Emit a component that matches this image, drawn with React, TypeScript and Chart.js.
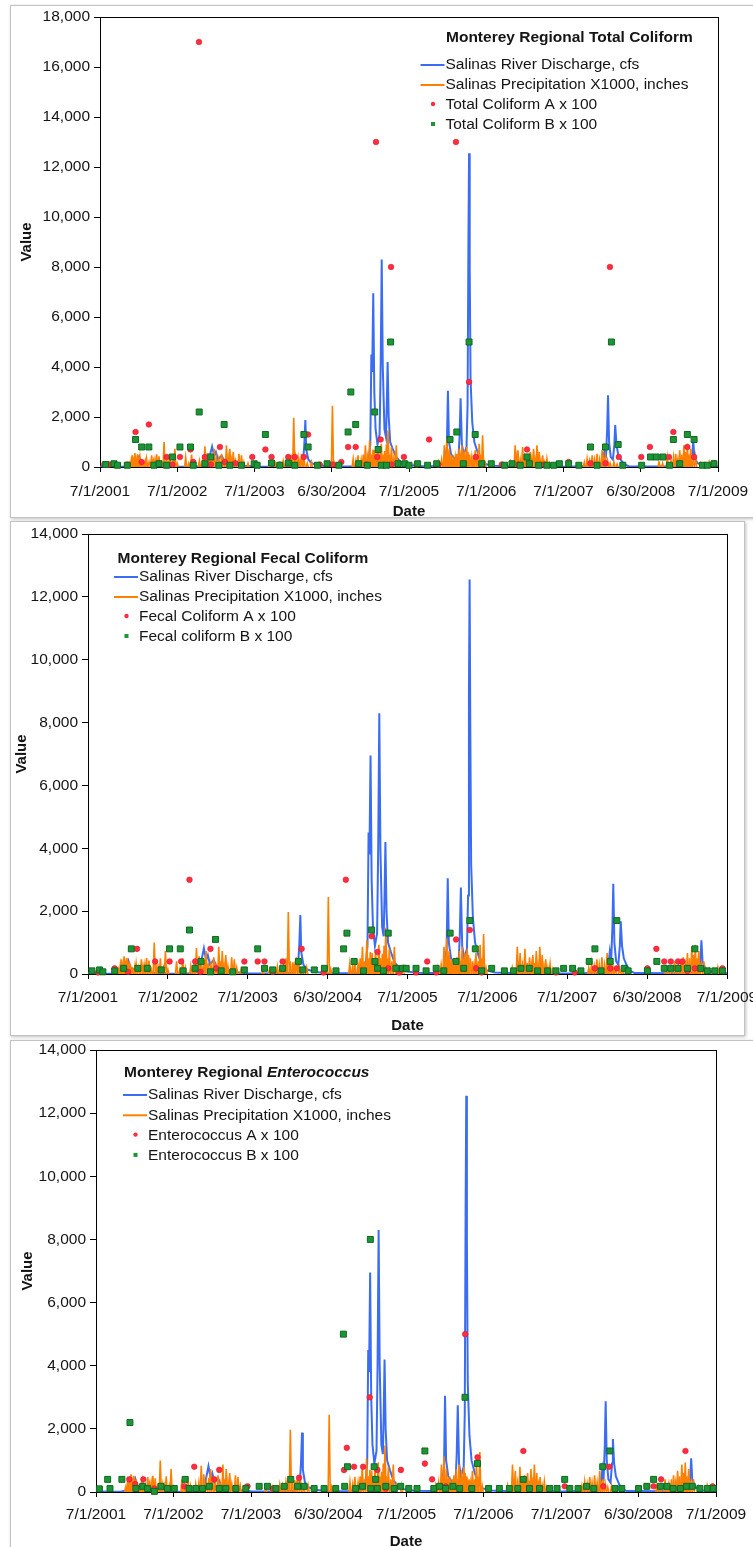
import React, { useEffect, useRef } from "react";
import { Chart, registerables } from "chart.js";

Chart.register(...registerables);

const FONT = '"Liberation Sans", Arial, Helvetica, sans-serif';

// ---------- axis ----------
const xTickLabels = ["7/1/2001", "7/1/2002", "7/1/2003", "6/30/2004", "7/1/2005", "7/1/2006", "7/1/2007", "6/30/2008", "7/1/2009"];
const TICK_SPACING_DAYS = 365.25;
const X_MAX_DAY = 2922;

// ---------- data (x = days since 7/1/2001) ----------
const dischargeCfs: [number, number][] = [
  [0, 20], [60, 10], [120, 15], [150, 60], [165, 350], [172, 150], [185, 420], [195, 180], [230, 120], [250, 250], [262, 90], [300, 40], [365, 15],
  [450, 10], [505, 60], [515, 300], [530, 820], [540, 450], [548, 600], [558, 300], [575, 450], [590, 200], [620, 120], [660, 60], [730, 20],
  [850, 15], [940, 40], [960, 200], [966, 900], [971, 1880], [975, 700], [985, 300], [1000, 150], [1040, 60], [1100, 20],
  [1250, 30], [1268, 150], [1278, 900], [1283, 4500], [1287, 3800], [1292, 6950], [1297, 3000], [1303, 1500], [1312, 900], [1322, 1300],
  [1327, 4000], [1332, 8300], [1337, 4000], [1345, 1500], [1352, 1200], [1356, 2500], [1360, 4200], [1365, 2000], [1372, 1000], [1385, 700],
  [1400, 400], [1420, 200], [1450, 90], [1500, 40], [1600, 30], [1630, 200], [1640, 800], [1645, 3050], [1650, 1000], [1660, 500],
  [1680, 300], [1695, 400], [1700, 1200], [1705, 2750], [1711, 900], [1720, 500], [1733, 800], [1738, 2500], [1742, 9000], [1745, 12550],
  [1748, 8000], [1752, 3500], [1760, 1800], [1770, 1000], [1785, 600], [1800, 300], [1820, 120], [1860, 50], [1950, 20], [2200, 15],
  [2370, 40], [2380, 300], [2386, 700], [2392, 350], [2398, 1500], [2402, 2870], [2407, 1000], [2415, 400], [2425, 300], [2432, 900],
  [2436, 1680], [2442, 900], [2450, 500], [2465, 250], [2480, 100], [2500, 30], [2700, 20], [2790, 60], [2800, 400], [2805, 1070],
  [2810, 400], [2825, 150], [2860, 50], [2922, 20],
];

const precipX1000: [number, number][] = [
  [140, 150], [148, 300], [153, 470], [158, 250], [165, 560], [171, 300], [178, 510], [183, 250], [189, 400], [196, 200], [205, 150], [214, 250],
  [220, 330], [232, 200], [244, 470], [252, 250], [260, 300], [268, 510], [279, 430], [290, 150], [303, 1000], [315, 250], [322, 200], [331, 500],
  [345, 200], [354, 730], [365, 150],
  [405, 400], [420, 150], [433, 500], [445, 200], [470, 250], [485, 300], [496, 830], [508, 560], [520, 300], [532, 450], [540, 730], [550, 350],
  [562, 300], [575, 530], [585, 250], [598, 870], [606, 400], [614, 730], [622, 300], [630, 600], [640, 250], [657, 530], [669, 470], [680, 200], [700, 150],
  [800, 100], [830, 150], [866, 240], [880, 200], [895, 300], [905, 500], [916, 1970], [925, 400], [937, 370], [945, 250], [953, 530], [965, 300],
  [980, 150], [1000, 200], [1099, 2450], [1110, 160],
  [1197, 330], [1210, 250], [1220, 470], [1235, 300], [1245, 500], [1255, 870], [1265, 400], [1275, 1070], [1285, 500], [1291, 700], [1299, 670],
  [1308, 400], [1315, 730], [1322, 400], [1330, 930], [1338, 500], [1346, 640], [1354, 900], [1362, 1470], [1370, 500], [1378, 800], [1390, 400],
  [1401, 870], [1415, 200], [1441, 200],
  [1600, 200], [1615, 300], [1628, 870], [1634, 500], [1640, 1130], [1646, 400], [1651, 730], [1657, 300], [1663, 470], [1672, 300], [1680, 400],
  [1687, 530], [1698, 730], [1704, 400], [1711, 870], [1717, 400], [1723, 670], [1728, 500], [1734, 800], [1740, 600], [1748, 500], [1758, 400],
  [1766, 300], [1774, 670], [1784, 400], [1793, 930], [1800, 500], [1809, 1270], [1820, 200],
  [1940, 200], [1963, 870], [1970, 400], [1976, 670], [1987, 300], [1998, 800], [2008, 350], [2019, 530], [2027, 300], [2034, 600], [2042, 350],
  [2050, 730], [2058, 300], [2066, 870], [2072, 400], [2077, 600], [2085, 250], [2093, 470], [2103, 200], [2113, 330], [2125, 150],
  [2290, 200], [2303, 330], [2315, 250], [2327, 470], [2338, 300], [2350, 530], [2362, 300], [2374, 670], [2382, 350], [2390, 400], [2400, 250],
  [2412, 150], [2430, 200], [2445, 120],
  [2643, 200], [2660, 150], [2682, 400], [2700, 250], [2712, 400], [2722, 530], [2732, 300], [2741, 670], [2751, 500], [2761, 870], [2770, 600],
  [2777, 930], [2785, 500], [2793, 730], [2805, 300], [2816, 400], [2840, 150], [2880, 200], [2900, 100],
];

const totalColiformA: [number, number][] = [
  [20, 100], [46, 100], [129, 100], [168, 1400], [197, 200], [231, 1700], [280, 150], [315, 400], [342, 100], [378, 400], [428, 700], [441, 200],
  [468, 17000], [496, 400], [524, 100], [567, 800], [590, 200], [640, 150], [720, 400], [782, 700], [811, 400], [850, 100], [890, 400], [921, 400],
  [964, 400], [984, 1300], [1039, 100], [1100, 100], [1141, 200], [1173, 800], [1209, 800], [1260, 100], [1305, 13000], [1311, 400], [1327, 1100],
  [1376, 8000], [1378, 100], [1437, 400], [1497, 100], [1556, 1100], [1600, 100], [1683, 13000], [1745, 3400], [1777, 400], [1805, 100],
  [1900, 100], [1979, 100], [2019, 700], [2100, 100], [2216, 200], [2319, 150], [2390, 150], [2411, 8000], [2453, 400], [2559, 400], [2600, 800],
  [2690, 400], [2711, 1400], [2777, 800], [2809, 400], [2903, 160],
];
const totalColiformB: [number, number][] = [
  [27, 100], [66, 130], [83, 70], [129, 70], [168, 1100], [197, 800], [231, 800], [255, 70], [279, 130], [315, 70], [342, 400], [378, 800],
  [428, 800], [441, 70], [469, 2200], [496, 130], [524, 400], [562, 70], [587, 1700], [614, 70], [669, 70], [729, 130], [743, 70], [782, 1300],
  [811, 160], [850, 70], [890, 160], [921, 70], [964, 1300], [984, 800], [1028, 70], [1074, 130], [1129, 70], [1173, 1400], [1186, 3000],
  [1209, 1700], [1223, 130], [1264, 70], [1299, 2200], [1315, 700], [1330, 70], [1354, 70], [1374, 5000], [1409, 130], [1441, 130], [1461, 70],
  [1502, 130], [1549, 70], [1592, 130], [1655, 1100], [1687, 1400], [1718, 130], [1745, 5000], [1774, 1300], [1805, 130], [1850, 130], [1913, 70],
  [1948, 130], [1987, 70], [2019, 400], [2030, 130], [2074, 70], [2113, 70], [2145, 70], [2172, 130], [2216, 130], [2264, 70], [2319, 800],
  [2350, 70], [2390, 800], [2418, 5000], [2450, 900], [2472, 70], [2561, 70], [2603, 400], [2630, 400], [2662, 400], [2693, 70], [2711, 1100],
  [2741, 130], [2777, 1300], [2809, 1100], [2848, 70], [2872, 70], [2903, 130],
];

const fecalColiformA: [number, number][] = [
  [46, 50], [122, 180], [183, 70], [224, 800], [307, 400], [373, 400], [426, 400], [464, 3000], [490, 400], [514, 70], [560, 800], [586, 180],
  [715, 400], [776, 400], [807, 400], [845, 70], [890, 400], [977, 800], [1077, 50], [1179, 3000], [1297, 1200], [1324, 700], [1373, 180],
  [1423, 50], [1500, 50], [1551, 400], [1592, 50], [1683, 1100], [1746, 1400], [1775, 180], [1800, 50], [2140, 50], [2226, 50], [2318, 180],
  [2388, 180], [2418, 180], [2558, 180], [2599, 800], [2635, 400], [2665, 400], [2698, 400], [2718, 400], [2741, 100], [2775, 180], [2901, 180],
];
const fecalColiformB: [number, number][] = [
  [18, 100], [53, 130], [68, 70], [122, 100], [163, 180], [198, 800], [228, 180], [271, 180], [335, 130], [373, 800], [422, 800], [435, 100],
  [464, 1400], [490, 180], [517, 400], [560, 70], [583, 1100], [609, 100], [662, 70], [715, 130], [776, 800], [807, 180], [845, 130], [890, 180],
  [962, 400], [982, 130], [1035, 130], [1081, 180], [1134, 100], [1169, 800], [1184, 1300], [1217, 400], [1260, 100], [1297, 1400], [1312, 400],
  [1324, 180], [1351, 100], [1373, 1300], [1408, 180], [1438, 180], [1455, 180], [1500, 180], [1546, 100], [1592, 180], [1627, 100], [1656, 1300],
  [1683, 400], [1718, 180], [1746, 1700], [1771, 800], [1800, 100], [1846, 180], [1904, 100], [1946, 100], [1980, 180], [2018, 180], [2056, 100],
  [2102, 100], [2140, 100], [2175, 180], [2216, 180], [2254, 100], [2292, 400], [2318, 800], [2346, 100], [2388, 400], [2418, 1700], [2452, 180],
  [2470, 100], [2558, 100], [2601, 400], [2635, 180], [2665, 180], [2698, 180], [2741, 180], [2775, 800], [2802, 180], [2832, 100], [2866, 100],
  [2901, 100],
];

const enterococcusA: [number, number][] = [
  [157, 400], [185, 250], [223, 400], [275, 110], [416, 180], [463, 800], [557, 400], [581, 700], [714, 180], [832, 110], [957, 450],
  [1169, 700], [1182, 1400], [1216, 800], [1259, 800], [1290, 3000], [1326, 700], [1366, 110], [1437, 700], [1550, 900], [1584, 400],
  [1648, 180], [1740, 5000], [1798, 1100], [2014, 1300], [2209, 180], [2391, 180], [2419, 800], [2596, 180], [2628, 180], [2663, 400],
  [2778, 1300], [2906, 180],
];
const enterococcusB: [number, number][] = [
  [16, 100], [55, 400], [66, 110], [122, 400], [160, 2200], [188, 110], [220, 180], [243, 110], [275, 20], [306, 180], [337, 110], [369, 110],
  [420, 400], [439, 110], [471, 110], [502, 110], [534, 180], [581, 110], [612, 110], [659, 110], [706, 110], [769, 180], [808, 180], [848, 110],
  [887, 180], [918, 400], [950, 180], [981, 180], [1028, 110], [1075, 110], [1130, 110], [1166, 5000], [1172, 180], [1185, 800], [1224, 110],
  [1256, 180], [1293, 8000], [1295, 110], [1311, 800], [1318, 400], [1326, 110], [1366, 180], [1405, 110], [1436, 180], [1474, 110], [1513, 110],
  [1550, 1300], [1592, 110], [1619, 180], [1648, 110], [1682, 180], [1714, 110], [1739, 3000], [1771, 110], [1798, 900], [1850, 110], [1901, 110],
  [1948, 110], [1988, 110], [2014, 400], [2043, 110], [2090, 110], [2138, 110], [2173, 110], [2209, 400], [2233, 110], [2272, 110], [2312, 180],
  [2346, 110], [2388, 800], [2422, 1300], [2446, 110], [2478, 110], [2557, 110], [2596, 180], [2628, 400], [2660, 180], [2691, 180], [2720, 110],
  [2754, 110], [2783, 180], [2810, 180], [2846, 110], [2881, 110], [2909, 110],
];

const dischargeLabel = "Salinas River Discharge, cfs";
const precipLabel = "Salinas Precipitation X1000, inches";

// ---------- styles ----------
const BLUE = "#3a6cf4";
const ORANGE = "#ff8000";
const RED = "#ff2d3d";
const RED_EDGE = "#e0142a";
const GREEN = "#1f9437";
const GREEN_EDGE = "#0c6a20";
const TEXT = "#141414";

type Box = { left: number; top: number; width: number; height: number };
type PanelCfg = {
  frame: Box;
  canvas: Box;
  area: { left: number; top: number; right: number; bottom: number };
  yMax: number;
  titleBold: string;
  titleItalic?: string;
  labelA: string;
  labelB: string;
  dataA: [number, number][];
  dataB: [number, number][];
  xTickCenterY: number;
  dateCenterY: number;
  valueCenterX: number;
  legend: { titleX: number; titleY: number; textX: number; firstY: number; step: number };
};

const panels: PanelCfg[] = [
  {
    frame: { left: 10, top: 5, width: 760, height: 513 },
    canvas: { left: 10, top: 5, width: 743, height: 526 },
    area: { left: 100, top: 17, right: 718, bottom: 467 },
    yMax: 18000,
    titleBold: "Monterey Regional Total Coliform",
    labelA: "Total Coliform A x 100",
    labelB: "Total Coliform B x 100",
    dataA: totalColiformA,
    dataB: totalColiformB,
    xTickCenterY: 492,
    dateCenterY: 512,
    valueCenterX: 27,
    legend: { titleX: 446, titleY: 38, textX: 445.5, firstY: 65, step: 20 },
  },
  {
    frame: { left: 10, top: 521, width: 735, height: 515 },
    canvas: { left: 10, top: 521, width: 743, height: 517 },
    area: { left: 88, top: 534, right: 727, bottom: 974 },
    yMax: 14000,
    titleBold: "Monterey Regional Fecal Coliform",
    labelA: "Fecal Coliform A x 100",
    labelB: "Fecal coliform B x 100",
    dataA: fecalColiformA,
    dataB: fecalColiformB,
    xTickCenterY: 998,
    dateCenterY: 1026,
    valueCenterX: 22,
    legend: { titleX: 117.6, titleY: 559, textX: 139, firstY: 577, step: 20 },
  },
  {
    frame: { left: 10, top: 1040, width: 760, height: 520 },
    canvas: { left: 10, top: 1040, width: 743, height: 516 },
    area: { left: 96, top: 1050, right: 716, bottom: 1492 },
    yMax: 14000,
    titleBold: "Monterey Regional ",
    titleItalic: "Enterococcus",
    labelA: "Enterococcus A x 100",
    labelB: "Enterococcus B x 100",
    dataA: enterococcusA,
    dataB: enterococcusB,
    xTickCenterY: 1515,
    dateCenterY: 1542,
    valueCenterX: 28,
    legend: { titleX: 124, titleY: 1073, textX: 148, firstY: 1095, step: 20.3 },
  },
];

const TICK_FONT = 15.5;
const TITLE_FONT = 15;
const LEGEND_FONT = 15.5;
const TICK_LEN = 5;

function toPoints(arr: [number, number][]) {
  return arr.map(([x, y]) => ({ x, y }));
}
function toSpikes(arr: [number, number][], half: number) {
  const pts: { x: number; y: number }[] = [{ x: 0, y: 0 }];
  arr.forEach(([d, v]) => {
    pts.push({ x: d - half, y: 0 }, { x: d, y: v }, { x: d + half, y: 0 });
  });
  pts.push({ x: X_MAX_DAY, y: 0 });
  return pts;
}

function makeDecor(cfg: PanelCfg) {
  return {
    id: "decor",
    beforeDatasetsDraw(chart: any) {
      const { ctx, chartArea: a } = chart;
      ctx.save();
      ctx.strokeStyle = "#000";
      ctx.lineWidth = 1;
      ctx.strokeRect(Math.round(a.left) + 0.5, Math.round(a.top) + 0.5, Math.round(a.right - a.left), Math.round(a.bottom - a.top));
      ctx.restore();
    },
    afterDraw(chart: any) {
      const ctx = chart.ctx as CanvasRenderingContext2D;
      const ox = cfg.canvas.left;
      const oy = cfg.canvas.top;
      const L = cfg.legend;
      ctx.save();
      ctx.textBaseline = "middle";
      ctx.textAlign = "left";
      ctx.fillStyle = TEXT;
      ctx.font = `bold ${LEGEND_FONT}px ${FONT}`;
      let tx = L.titleX - ox;
      const ty = L.titleY - oy;
      ctx.fillText(cfg.titleBold, tx, ty);
      if (cfg.titleItalic) {
        tx += ctx.measureText(cfg.titleBold).width;
        ctx.font = `italic bold ${LEGEND_FONT}px ${FONT}`;
        ctx.fillText(cfg.titleItalic, tx, ty);
      }
      ctx.font = `${LEGEND_FONT}px ${FONT}`;
      const entries = [
        { kind: "line", color: BLUE, label: dischargeLabel },
        { kind: "line", color: ORANGE, label: precipLabel },
        { kind: "dot", color: RED, label: cfg.labelA },
        { kind: "sq", color: GREEN, label: cfg.labelB },
      ];
      entries.forEach((e, i) => {
        const y = L.firstY - oy + i * L.step;
        const x = L.textX - ox;
        if (e.kind === "line") {
          ctx.strokeStyle = e.color;
          ctx.lineWidth = 2;
          ctx.beginPath();
          ctx.moveTo(x - 25, y);
          ctx.lineTo(x - 1, y);
          ctx.stroke();
        } else if (e.kind === "dot") {
          ctx.fillStyle = e.color;
          ctx.beginPath();
          ctx.arc(x - 12.5, y - 1, 2.2, 0, Math.PI * 2);
          ctx.fill();
        } else {
          ctx.fillStyle = e.color;
          ctx.fillRect(x - 14.5, y - 3, 4, 4);
        }
        ctx.fillStyle = TEXT;
        ctx.fillText(e.label, x, y);
      });
      ctx.restore();
    },
  };
}

function Panel({ cfg }: { cfg: PanelCfg }) {
  const ref = useRef<HTMLCanvasElement | null>(null);
  useEffect(() => {
    if (!ref.current) return;
    const c = cfg.canvas;
    const a = cfg.area;
    const canvasBottom = c.top + c.height;
    const xAxisHeight = canvasBottom - a.bottom;
    const yAxisWidth = a.left - c.left;
    const tickLH = TICK_FONT * 1.2;
    const titleLH = TITLE_FONT * 1.2;
    const xTickPad = cfg.xTickCenterY - a.bottom - TICK_LEN - tickLH / 2;
    const dateBottomPad = canvasBottom - cfg.dateCenterY - titleLH / 2;
    const valueTopPad = cfg.valueCenterX - c.left - titleLH / 2;

    const chart = new Chart(ref.current, {
      type: "scatter",
      data: {
        datasets: [
          {
            label: dischargeLabel,
            data: toPoints(dischargeCfs),
            showLine: true,
            borderColor: BLUE,
            borderWidth: 2,
            pointRadius: 0,
            tension: 0,
            order: 4,
          },
          {
            label: precipLabel,
            data: toSpikes(precipX1000, 5),
            showLine: true,
            borderColor: ORANGE,
            borderWidth: 1.6,
            pointRadius: 0,
            tension: 0,
            order: 3,
            segment: {
              borderColor: (ctx: any) => (ctx.p0.parsed.y === 0 && ctx.p1.parsed.y === 0 ? "rgba(0,0,0,0)" : ORANGE),
            },
          },
          {
            label: cfg.labelA,
            data: toPoints(cfg.dataA),
            pointStyle: "circle",
            pointRadius: 2.8,
            backgroundColor: RED,
            borderColor: RED_EDGE,
            borderWidth: 0.6,
            order: 2,
            clip: false,
          },
          {
            label: cfg.labelB,
            data: toPoints(cfg.dataB),
            pointStyle: "rect",
            pointRadius: 4.2,
            backgroundColor: GREEN,
            borderColor: GREEN_EDGE,
            borderWidth: 1,
            order: 1,
            clip: false,
          },
        ] as any,
      },
      options: {
        animation: false,
        responsive: false,
        devicePixelRatio: 1,
        events: [],
        layout: {
          padding: { left: 0, top: a.top - c.top, right: c.left + c.width - a.right, bottom: 0 },
        },
        plugins: { legend: { display: false }, tooltip: { enabled: false } },
        scales: {
          x: {
            type: "linear",
            min: 0,
            max: X_MAX_DAY,
            afterBuildTicks: (s: any) => {
              s.ticks = xTickLabels.map((_, i) => ({ value: i * TICK_SPACING_DAYS }));
            },
            afterFit: (s: any) => {
              s.height = xAxisHeight;
              s.paddingLeft = 0;
              s.paddingRight = 0;
            },
            grid: { drawOnChartArea: false, drawTicks: true, tickLength: TICK_LEN, color: "#000", tickColor: "#000" },
            border: { display: true, color: "#000", width: 1 },
            ticks: {
              autoSkip: false,
              maxRotation: 0,
              minRotation: 0,
              padding: xTickPad,
              color: TEXT,
              font: { family: FONT, size: TICK_FONT },
              callback: (_v: any, i: number) => xTickLabels[i] ?? "",
            },
            title: {
              display: true,
              text: "Date",
              color: TEXT,
              font: { family: FONT, size: TITLE_FONT, weight: "bold" },
              padding: { top: 0, bottom: dateBottomPad },
            },
          },
          y: {
            type: "linear",
            min: 0,
            max: cfg.yMax,
            afterFit: (s: any) => {
              s.width = yAxisWidth;
              s.paddingTop = 0;
              s.paddingBottom = 0;
            },
            grid: { drawOnChartArea: false, drawTicks: true, tickLength: 6, color: "#000", tickColor: "#000" },
            border: { display: true, color: "#000", width: 1 },
            ticks: {
              stepSize: 2000,
              padding: 4,
              color: TEXT,
              font: { family: FONT, size: TICK_FONT },
              callback: (v: any) => Number(v).toLocaleString("en-US"),
            },
            title: {
              display: true,
              text: "Value",
              color: TEXT,
              font: { family: FONT, size: TITLE_FONT, weight: "bold" },
              padding: { top: valueTopPad, bottom: 0 },
            },
          },
        },
      } as any,
      plugins: [makeDecor(cfg) as any],
    });
    return () => chart.destroy();
  }, [cfg]);

  return (
    <canvas
      ref={ref}
      width={cfg.canvas.width}
      height={cfg.canvas.height}
      style={{
        position: "absolute",
        left: cfg.canvas.left,
        top: cfg.canvas.top,
        width: cfg.canvas.width,
        height: cfg.canvas.height,
      }}
    />
  );
}

export default function App() {
  return (
    <div style={{ position: "absolute", left: 0, top: 0, width: 753, height: 1547, overflow: "hidden", background: "#fff" }}>
      {panels.map((p, i) => (
        <div
          key={"f" + i}
          style={{
            position: "absolute",
            left: p.frame.left,
            top: p.frame.top,
            width: p.frame.width,
            height: p.frame.height,
            boxSizing: "border-box",
            border: "1px solid #c2c2c2",
            boxShadow: "1px 1px 3px rgba(0,0,0,0.25)",
            background: "#fff",
          }}
        />
      ))}
      {panels.map((p, i) => (
        <Panel key={"c" + i} cfg={p} />
      ))}
    </div>
  );
}
